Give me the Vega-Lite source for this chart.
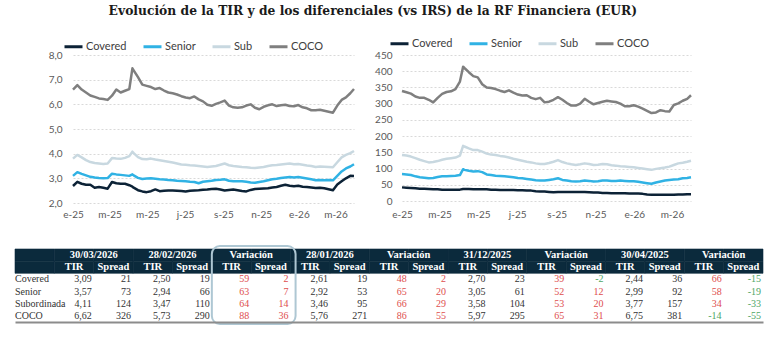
{
  "$schema": "https://vega.github.io/schema/vega-lite/v6.json",
  "padding": {"left": 14, "top": 4, "right": 2, "bottom": 2},
  "background": "white",
  "title": {"text": "Evolución de la TIR y de los diferenciales (vs IRS) de la RF Financiera (EUR)", "font": "DejaVu Serif", "fontSize": 12.3, "fontWeight": "bold", "color": "#1a1a1a", "anchor": "middle", "dx": -45, "offset": 16},
  "datasets": {
    "tir": [
      {"d": "2025-01-01", "Covered": 2.69, "Senior": 3.10, "Sub": 3.80, "COCO": 6.60},
      {"d": "2025-01-08", "Covered": 2.86, "Senior": 3.25, "Sub": 3.95, "COCO": 6.78},
      {"d": "2025-01-15", "Covered": 2.78, "Senior": 3.18, "Sub": 3.85, "COCO": 6.60},
      {"d": "2025-01-22", "Covered": 2.74, "Senior": 3.12, "Sub": 3.74, "COCO": 6.48},
      {"d": "2025-01-29", "Covered": 2.74, "Senior": 3.06, "Sub": 3.66, "COCO": 6.36},
      {"d": "2025-02-05", "Covered": 2.62, "Senior": 3.03, "Sub": 3.62, "COCO": 6.30},
      {"d": "2025-02-12", "Covered": 2.65, "Senior": 3.01, "Sub": 3.60, "COCO": 6.24},
      {"d": "2025-02-19", "Covered": 2.62, "Senior": 3.00, "Sub": 3.58, "COCO": 6.22},
      {"d": "2025-02-26", "Covered": 2.58, "Senior": 3.01, "Sub": 3.60, "COCO": 6.18},
      {"d": "2025-03-05", "Covered": 2.85, "Senior": 3.19, "Sub": 3.82, "COCO": 6.35},
      {"d": "2025-03-12", "Covered": 2.80, "Senior": 3.16, "Sub": 3.80, "COCO": 6.60},
      {"d": "2025-03-19", "Covered": 2.78, "Senior": 3.14, "Sub": 3.79, "COCO": 6.48},
      {"d": "2025-03-26", "Covered": 2.78, "Senior": 3.12, "Sub": 3.83, "COCO": 6.55},
      {"d": "2025-04-02", "Covered": 2.72, "Senior": 3.10, "Sub": 3.90, "COCO": 6.62},
      {"d": "2025-04-07", "Covered": 2.66, "Senior": 3.16, "Sub": 4.08, "COCO": 7.46},
      {"d": "2025-04-09", "Covered": 2.62, "Senior": 3.12, "Sub": 4.02, "COCO": 7.38},
      {"d": "2025-04-16", "Covered": 2.52, "Senior": 3.02, "Sub": 3.86, "COCO": 7.10},
      {"d": "2025-04-23", "Covered": 2.47, "Senior": 2.97, "Sub": 3.78, "COCO": 6.80},
      {"d": "2025-04-30", "Covered": 2.44, "Senior": 2.99, "Sub": 3.77, "COCO": 6.75},
      {"d": "2025-05-07", "Covered": 2.48, "Senior": 3.00, "Sub": 3.80, "COCO": 6.70},
      {"d": "2025-05-14", "Covered": 2.55, "Senior": 2.98, "Sub": 3.76, "COCO": 6.62},
      {"d": "2025-05-21", "Covered": 2.48, "Senior": 2.96, "Sub": 3.73, "COCO": 6.66},
      {"d": "2025-05-28", "Covered": 2.50, "Senior": 2.95, "Sub": 3.70, "COCO": 6.56},
      {"d": "2025-06-04", "Covered": 2.51, "Senior": 2.93, "Sub": 3.67, "COCO": 6.48},
      {"d": "2025-06-11", "Covered": 2.51, "Senior": 2.92, "Sub": 3.64, "COCO": 6.45},
      {"d": "2025-06-18", "Covered": 2.50, "Senior": 2.90, "Sub": 3.60, "COCO": 6.40},
      {"d": "2025-06-25", "Covered": 2.49, "Senior": 2.89, "Sub": 3.56, "COCO": 6.33},
      {"d": "2025-07-02", "Covered": 2.47, "Senior": 2.88, "Sub": 3.55, "COCO": 6.28},
      {"d": "2025-07-09", "Covered": 2.50, "Senior": 2.86, "Sub": 3.53, "COCO": 6.25},
      {"d": "2025-07-16", "Covered": 2.51, "Senior": 2.85, "Sub": 3.52, "COCO": 6.32},
      {"d": "2025-07-23", "Covered": 2.52, "Senior": 2.80, "Sub": 3.50, "COCO": 6.20},
      {"d": "2025-07-30", "Covered": 2.54, "Senior": 2.86, "Sub": 3.48, "COCO": 6.12},
      {"d": "2025-08-06", "Covered": 2.55, "Senior": 2.88, "Sub": 3.46, "COCO": 5.98},
      {"d": "2025-08-13", "Covered": 2.57, "Senior": 2.90, "Sub": 3.48, "COCO": 5.94},
      {"d": "2025-08-20", "Covered": 2.58, "Senior": 2.93, "Sub": 3.50, "COCO": 6.02},
      {"d": "2025-08-27", "Covered": 2.55, "Senior": 2.94, "Sub": 3.55, "COCO": 6.08},
      {"d": "2025-09-03", "Covered": 2.51, "Senior": 2.96, "Sub": 3.60, "COCO": 6.15},
      {"d": "2025-09-10", "Covered": 2.53, "Senior": 2.90, "Sub": 3.53, "COCO": 5.95},
      {"d": "2025-09-17", "Covered": 2.55, "Senior": 2.88, "Sub": 3.50, "COCO": 5.88},
      {"d": "2025-09-24", "Covered": 2.52, "Senior": 2.88, "Sub": 3.48, "COCO": 5.86},
      {"d": "2025-10-01", "Covered": 2.49, "Senior": 2.88, "Sub": 3.46, "COCO": 5.88},
      {"d": "2025-10-08", "Covered": 2.47, "Senior": 2.86, "Sub": 3.45, "COCO": 5.95},
      {"d": "2025-10-15", "Covered": 2.53, "Senior": 2.83, "Sub": 3.43, "COCO": 6.00},
      {"d": "2025-10-22", "Covered": 2.57, "Senior": 2.82, "Sub": 3.42, "COCO": 5.86},
      {"d": "2025-10-29", "Covered": 2.58, "Senior": 2.85, "Sub": 3.44, "COCO": 5.80},
      {"d": "2025-11-05", "Covered": 2.59, "Senior": 2.88, "Sub": 3.46, "COCO": 5.90},
      {"d": "2025-11-12", "Covered": 2.60, "Senior": 2.92, "Sub": 3.50, "COCO": 5.96},
      {"d": "2025-11-19", "Covered": 2.63, "Senior": 2.96, "Sub": 3.53, "COCO": 6.00},
      {"d": "2025-11-26", "Covered": 2.65, "Senior": 2.98, "Sub": 3.54, "COCO": 5.93},
      {"d": "2025-12-03", "Covered": 2.70, "Senior": 3.01, "Sub": 3.56, "COCO": 5.96},
      {"d": "2025-12-10", "Covered": 2.74, "Senior": 3.03, "Sub": 3.58, "COCO": 5.98},
      {"d": "2025-12-17", "Covered": 2.70, "Senior": 3.05, "Sub": 3.60, "COCO": 5.93},
      {"d": "2025-12-24", "Covered": 2.68, "Senior": 3.03, "Sub": 3.57, "COCO": 5.92},
      {"d": "2025-12-31", "Covered": 2.70, "Senior": 3.05, "Sub": 3.58, "COCO": 5.97},
      {"d": "2026-01-07", "Covered": 2.66, "Senior": 3.02, "Sub": 3.55, "COCO": 5.88},
      {"d": "2026-01-14", "Covered": 2.65, "Senior": 2.99, "Sub": 3.52, "COCO": 5.84},
      {"d": "2026-01-21", "Covered": 2.63, "Senior": 2.96, "Sub": 3.50, "COCO": 5.76},
      {"d": "2026-01-28", "Covered": 2.61, "Senior": 2.92, "Sub": 3.46, "COCO": 5.76},
      {"d": "2026-02-04", "Covered": 2.62, "Senior": 2.93, "Sub": 3.48, "COCO": 5.78},
      {"d": "2026-02-11", "Covered": 2.60, "Senior": 2.92, "Sub": 3.47, "COCO": 5.74},
      {"d": "2026-02-18", "Covered": 2.56, "Senior": 2.93, "Sub": 3.46, "COCO": 5.70},
      {"d": "2026-02-25", "Covered": 2.52, "Senior": 2.92, "Sub": 3.45, "COCO": 5.66},
      {"d": "2026-03-04", "Covered": 2.75, "Senior": 3.10, "Sub": 3.65, "COCO": 5.95},
      {"d": "2026-03-11", "Covered": 2.88, "Senior": 3.28, "Sub": 3.85, "COCO": 6.18},
      {"d": "2026-03-18", "Covered": 3.00, "Senior": 3.40, "Sub": 3.95, "COCO": 6.28},
      {"d": "2026-03-25", "Covered": 3.10, "Senior": 3.48, "Sub": 4.02, "COCO": 6.45},
      {"d": "2026-03-31", "Covered": 3.09, "Senior": 3.57, "Sub": 4.11, "COCO": 6.62}
    ],
    "spr": [
      {"d": "2025-01-01", "Covered": 42, "Senior": 83, "Sub": 142, "COCO": 339},
      {"d": "2025-01-08", "Covered": 41, "Senior": 82, "Sub": 140, "COCO": 335},
      {"d": "2025-01-15", "Covered": 40, "Senior": 80, "Sub": 137, "COCO": 331},
      {"d": "2025-01-22", "Covered": 39, "Senior": 76, "Sub": 132, "COCO": 322},
      {"d": "2025-01-29", "Covered": 38, "Senior": 73, "Sub": 127, "COCO": 318},
      {"d": "2025-02-05", "Covered": 38, "Senior": 72, "Sub": 123, "COCO": 318},
      {"d": "2025-02-12", "Covered": 37, "Senior": 70, "Sub": 119, "COCO": 312},
      {"d": "2025-02-19", "Covered": 36, "Senior": 71, "Sub": 120, "COCO": 304},
      {"d": "2025-02-26", "Covered": 36, "Senior": 74, "Sub": 123, "COCO": 318},
      {"d": "2025-03-05", "Covered": 35, "Senior": 76, "Sub": 127, "COCO": 330},
      {"d": "2025-03-12", "Covered": 35, "Senior": 76, "Sub": 130, "COCO": 336},
      {"d": "2025-03-19", "Covered": 35, "Senior": 77, "Sub": 132, "COCO": 338},
      {"d": "2025-03-26", "Covered": 35, "Senior": 78, "Sub": 134, "COCO": 345},
      {"d": "2025-04-02", "Covered": 35, "Senior": 80, "Sub": 140, "COCO": 368},
      {"d": "2025-04-07", "Covered": 37, "Senior": 98, "Sub": 170, "COCO": 414},
      {"d": "2025-04-09", "Covered": 37, "Senior": 96, "Sub": 168, "COCO": 410},
      {"d": "2025-04-16", "Covered": 37, "Senior": 93, "Sub": 162, "COCO": 397},
      {"d": "2025-04-23", "Covered": 36, "Senior": 91, "Sub": 157, "COCO": 385},
      {"d": "2025-04-30", "Covered": 36, "Senior": 92, "Sub": 157, "COCO": 381},
      {"d": "2025-05-07", "Covered": 36, "Senior": 89, "Sub": 152, "COCO": 360},
      {"d": "2025-05-14", "Covered": 36, "Senior": 82, "Sub": 146, "COCO": 350},
      {"d": "2025-05-21", "Covered": 35, "Senior": 80, "Sub": 143, "COCO": 348},
      {"d": "2025-05-28", "Covered": 35, "Senior": 78, "Sub": 142, "COCO": 345},
      {"d": "2025-06-04", "Covered": 34, "Senior": 77, "Sub": 139, "COCO": 340},
      {"d": "2025-06-11", "Covered": 34, "Senior": 76, "Sub": 137, "COCO": 336},
      {"d": "2025-06-18", "Covered": 34, "Senior": 75, "Sub": 134, "COCO": 341},
      {"d": "2025-06-25", "Covered": 34, "Senior": 73, "Sub": 130, "COCO": 334},
      {"d": "2025-07-02", "Covered": 33, "Senior": 71, "Sub": 127, "COCO": 328},
      {"d": "2025-07-09", "Covered": 33, "Senior": 70, "Sub": 124, "COCO": 325},
      {"d": "2025-07-16", "Covered": 32, "Senior": 68, "Sub": 121, "COCO": 326},
      {"d": "2025-07-23", "Covered": 32, "Senior": 66, "Sub": 119, "COCO": 318},
      {"d": "2025-07-30", "Covered": 30, "Senior": 64, "Sub": 116, "COCO": 314},
      {"d": "2025-08-06", "Covered": 29, "Senior": 63, "Sub": 114, "COCO": 318},
      {"d": "2025-08-13", "Covered": 29, "Senior": 63, "Sub": 114, "COCO": 304},
      {"d": "2025-08-20", "Covered": 28, "Senior": 65, "Sub": 117, "COCO": 306},
      {"d": "2025-08-27", "Covered": 27, "Senior": 67, "Sub": 121, "COCO": 312},
      {"d": "2025-09-03", "Covered": 28, "Senior": 70, "Sub": 126, "COCO": 320},
      {"d": "2025-09-10", "Covered": 28, "Senior": 65, "Sub": 120, "COCO": 312},
      {"d": "2025-09-17", "Covered": 28, "Senior": 63, "Sub": 116, "COCO": 302},
      {"d": "2025-09-24", "Covered": 28, "Senior": 61, "Sub": 113, "COCO": 294},
      {"d": "2025-10-01", "Covered": 28, "Senior": 60, "Sub": 111, "COCO": 294},
      {"d": "2025-10-08", "Covered": 28, "Senior": 61, "Sub": 113, "COCO": 300},
      {"d": "2025-10-15", "Covered": 28, "Senior": 63, "Sub": 116, "COCO": 315},
      {"d": "2025-10-22", "Covered": 27, "Senior": 62, "Sub": 114, "COCO": 306},
      {"d": "2025-10-29", "Covered": 26, "Senior": 60, "Sub": 111, "COCO": 298},
      {"d": "2025-11-05", "Covered": 26, "Senior": 61, "Sub": 112, "COCO": 302},
      {"d": "2025-11-12", "Covered": 25, "Senior": 63, "Sub": 114, "COCO": 306},
      {"d": "2025-11-19", "Covered": 25, "Senior": 63, "Sub": 113, "COCO": 309},
      {"d": "2025-11-26", "Covered": 24, "Senior": 62, "Sub": 110, "COCO": 307},
      {"d": "2025-12-03", "Covered": 24, "Senior": 62, "Sub": 109, "COCO": 305},
      {"d": "2025-12-10", "Covered": 24, "Senior": 63, "Sub": 107, "COCO": 300},
      {"d": "2025-12-17", "Covered": 24, "Senior": 62, "Sub": 106, "COCO": 292},
      {"d": "2025-12-24", "Covered": 23, "Senior": 61, "Sub": 105, "COCO": 292},
      {"d": "2025-12-31", "Covered": 23, "Senior": 61, "Sub": 104, "COCO": 295},
      {"d": "2026-01-07", "Covered": 23, "Senior": 59, "Sub": 102, "COCO": 291},
      {"d": "2026-01-14", "Covered": 22, "Senior": 57, "Sub": 100, "COCO": 285},
      {"d": "2026-01-21", "Covered": 20, "Senior": 55, "Sub": 98, "COCO": 278},
      {"d": "2026-01-28", "Covered": 19, "Senior": 53, "Sub": 96, "COCO": 271},
      {"d": "2026-02-04", "Covered": 19, "Senior": 57, "Sub": 99, "COCO": 273},
      {"d": "2026-02-11", "Covered": 19, "Senior": 60, "Sub": 101, "COCO": 280},
      {"d": "2026-02-18", "Covered": 19, "Senior": 63, "Sub": 103, "COCO": 277},
      {"d": "2026-02-25", "Covered": 19, "Senior": 65, "Sub": 106, "COCO": 276},
      {"d": "2026-03-04", "Covered": 19, "Senior": 66, "Sub": 111, "COCO": 296},
      {"d": "2026-03-11", "Covered": 20, "Senior": 67, "Sub": 116, "COCO": 301},
      {"d": "2026-03-18", "Covered": 20, "Senior": 70, "Sub": 118, "COCO": 309},
      {"d": "2026-03-25", "Covered": 21, "Senior": 71, "Sub": 121, "COCO": 315},
      {"d": "2026-03-31", "Covered": 21, "Senior": 73, "Sub": 124, "COCO": 326}
    ],
    "tbl": [
      {"r": "Covered", "t1": 3.09, "s1": 21, "t2": 2.50, "s2": 19, "vt2": 59, "vs2": 2, "t3": 2.61, "s3": 19, "vt3": 48, "vs3": 2, "t4": 2.70, "s4": 23, "vt4": 39, "vs4": -2, "t5": 2.44, "s5": 36, "vt5": 66, "vs5": -15},
      {"r": "Senior", "t1": 3.57, "s1": 73, "t2": 2.94, "s2": 66, "vt2": 63, "vs2": 7, "t3": 2.92, "s3": 53, "vt3": 65, "vs3": 20, "t4": 3.05, "s4": 61, "vt4": 52, "vs4": 12, "t5": 2.99, "s5": 92, "vt5": 58, "vs5": -19},
      {"r": "Subordinada", "t1": 4.11, "s1": 124, "t2": 3.47, "s2": 110, "vt2": 64, "vs2": 14, "t3": 3.46, "s3": 95, "vt3": 66, "vs3": 29, "t4": 3.58, "s4": 104, "vt4": 53, "vs4": 20, "t5": 3.77, "s5": 157, "vt5": 34, "vs5": -33},
      {"r": "COCO", "t1": 6.62, "s1": 326, "t2": 5.73, "s2": 290, "vt2": 88, "vs2": 36, "t3": 5.76, "s3": 271, "vt3": 86, "vs3": 55, "t4": 5.97, "s4": 295, "vt4": 65, "vs4": 31, "t5": 6.75, "s5": 381, "vt5": -14, "vs5": -55}
    ],
    "hdr": [
      {"k": "lbl", "h1": "", "h2": ""},
      {"k": "t1", "h1": "30/03/2026", "h2": "TIR"},
      {"k": "s1", "h1": "", "h2": "Spread"},
      {"k": "t2", "h1": "28/02/2026", "h2": "TIR"},
      {"k": "s2", "h1": "", "h2": "Spread"},
      {"k": "vt2", "h1": "Variación", "h2": "TIR"},
      {"k": "vs2", "h1": "", "h2": "Spread"},
      {"k": "t3", "h1": "28/01/2026", "h2": "TIR"},
      {"k": "s3", "h1": "", "h2": "Spread"},
      {"k": "vt3", "h1": "Variación", "h2": "TIR"},
      {"k": "vs3", "h1": "", "h2": "Spread"},
      {"k": "t4", "h1": "31/12/2025", "h2": "TIR"},
      {"k": "s4", "h1": "", "h2": "Spread"},
      {"k": "vt4", "h1": "Variación", "h2": "TIR"},
      {"k": "vs4", "h1": "", "h2": "Spread"},
      {"k": "t5", "h1": "30/04/2025", "h2": "TIR"},
      {"k": "s5", "h1": "", "h2": "Spread"},
      {"k": "vt5", "h1": "Variación", "h2": "TIR"},
      {"k": "vs5", "h1": "", "h2": "Spread"}
    ]
  },
  "concat": [
    {
      "hconcat": [
        {
          "width": 281,
          "height": 148,
          "data": {"name": "tir"},
          "transform": [{"fold": ["Covered", "Senior", "Sub", "COCO"], "as": ["s", "v"]}],
          "mark": {"type": "line", "strokeWidth": 2.5, "strokeJoin": "round"},
          "encoding": {
            "x": {
              "field": "d", "type": "temporal",
              "scale": {"type": "utc", "domain": [{"year": 2025, "month": 1, "date": 1, "utc": true}, {"year": 2026, "month": 3, "date": 31, "utc": true}], "nice": false},
              "axis": {"title": null, "grid": false, "domain": false, "ticks": false, "labelPadding": 6, "labelFlush": false,
                "values": [{"year": 2025, "month": 1, "date": 1, "utc": true}, {"year": 2025, "month": 3, "date": 1, "utc": true}, {"year": 2025, "month": 5, "date": 1, "utc": true}, {"year": 2025, "month": 7, "date": 1, "utc": true}, {"year": 2025, "month": 9, "date": 1, "utc": true}, {"year": 2025, "month": 11, "date": 1, "utc": true}, {"year": 2026, "month": 1, "date": 1, "utc": true}, {"year": 2026, "month": 3, "date": 1, "utc": true}],
                "labelExpr": "['e','f','m','a','m','j','j','a','s','o','n','d'][utcmonth(datum.value)] + '-' + utcFormat(datum.value, '%y')",
                "labelFont": "Lato", "labelFontSize": 10, "labelColor": "#595959", "labelOverlap": false}
            },
            "y": {
              "field": "v", "type": "quantitative",
              "scale": {"domain": [2, 8], "zero": false, "nice": false},
              "axis": {"title": null,
                "values": [2, 3, 4, 5, 6, 7, 8], "format": ".1f", "grid": true, "gridColor": "#d9d9d9", "gridDash": [2, 2], "domain": false, "ticks": false, "labelPadding": 11,
                "labelFont": "Lato", "labelFontSize": 10, "labelColor": "#595959"}
            },
            "color": {
              "field": "s", "type": "nominal",
              "scale": {"domain": ["Covered", "Senior", "Sub", "COCO"], "range": ["#0c2236", "#30b2e4", "#c8d8e0", "#7f7f7f"]},
              "legend": {"orient": "none", "legendX": -10, "legendY": -19, "direction": "horizontal", "title": null, "symbolType": "stroke", "symbolStrokeWidth": 3, "symbolSize": 324, "labelFont": "Lato", "labelFontSize": 11, "labelColor": "#404040", "columnPadding": 10, "labelOffset": 2}
            }
          }
        },
        {
          "width": 289,
          "height": 146,
          "data": {"name": "spr"},
          "transform": [{"fold": ["Covered", "Senior", "Sub", "COCO"], "as": ["s", "v"]}],
          "mark": {"type": "line", "strokeWidth": 2.5, "strokeJoin": "round"},
          "encoding": {
            "x": {
              "field": "d", "type": "temporal",
              "scale": {"type": "utc", "domain": [{"year": 2025, "month": 1, "date": 1, "utc": true}, {"year": 2026, "month": 3, "date": 31, "utc": true}], "nice": false},
              "axis": {"title": null, "grid": false, "domain": false, "ticks": false, "labelPadding": 8, "labelFlush": false,
                "values": [{"year": 2025, "month": 1, "date": 1, "utc": true}, {"year": 2025, "month": 3, "date": 1, "utc": true}, {"year": 2025, "month": 5, "date": 1, "utc": true}, {"year": 2025, "month": 7, "date": 1, "utc": true}, {"year": 2025, "month": 9, "date": 1, "utc": true}, {"year": 2025, "month": 11, "date": 1, "utc": true}, {"year": 2026, "month": 1, "date": 1, "utc": true}, {"year": 2026, "month": 3, "date": 1, "utc": true}],
                "labelExpr": "['e','f','m','a','m','j','j','a','s','o','n','d'][utcmonth(datum.value)] + '-' + utcFormat(datum.value, '%y')",
                "labelFont": "Lato", "labelFontSize": 10, "labelColor": "#595959", "labelOverlap": false}
            },
            "y": {
              "field": "v", "type": "quantitative",
              "scale": {"domain": [0, 450], "nice": false},
              "axis": {"title": null, "values": [0, 50, 100, 150, 200, 250, 300, 350, 400, 450], "format": "d", "grid": true, "gridColor": "#d9d9d9", "gridDash": [2, 2], "domain": false, "ticks": false, "labelPadding": 10,
                "labelFont": "Lato", "labelFontSize": 10, "labelColor": "#595959"}
            },
            "color": {
              "field": "s", "type": "nominal",
              "scale": {"domain": ["Covered", "Senior", "Sub", "COCO"], "range": ["#0c2236", "#30b2e4", "#c8d8e0", "#7f7f7f"]},
              "legend": {"orient": "none", "legendX": -13, "legendY": -22, "direction": "horizontal", "title": null, "symbolType": "stroke", "symbolStrokeWidth": 3, "symbolSize": 324, "labelFont": "Lato", "labelFontSize": 11, "labelColor": "#404040", "columnPadding": 10, "labelOffset": 2}
            }
          }
        }
      ],
      "spacing": 18,
      "resolve": {"scale": {"color": "independent"}, "legend": {"color": "independent"}}
    },
    {
      "width": 690,
      "height": 73,
      "layer": [
        {
          "data": {"name": "hdr"},
          "transform": [{"fold": ["h1", "h2"], "as": ["row", "txt"]}],
          "mark": {"type": "rect", "fill": "#0b2a3c", "stroke": "#0b2a3c", "strokeWidth": 0.6},
          "encoding": {
            "x": {"field": "k", "type": "nominal", "scale": {"domain": ["lbl", "t1", "s1", "t2", "s2", "vt2", "vs2", "t3", "s3", "vt3", "vs3", "t4", "s4", "vt4", "vs4", "t5", "s5", "vt5", "vs5"], "range": [-58, 690], "paddingInner": 0, "paddingOuter": 0}, "axis": {"labels": false, "ticks": false, "grid": false, "domain": true, "domainColor": "#8c8c8c", "domainWidth": 2, "title": null}},
            "y": {"field": "row", "type": "nominal", "scale": {"domain": ["h1", "h2", "Covered", "Senior", "Subordinada", "COCO"], "paddingInner": 0, "paddingOuter": 0}, "axis": null}
          }
        },
        {
          "data": {"name": "hdr"},
          "transform": [{"fold": ["h1", "h2"], "as": ["row", "txt"]}, {"filter": "datum.row == 'h1' && datum.txt != ''"}],
          "mark": {"type": "text", "font": "Liberation Serif", "fontSize": 10.5, "fontWeight": "bold", "color": "#ffffff", "align": "center", "baseline": "middle"},
          "encoding": {
            "x": {"field": "k", "type": "nominal", "bandPosition": 1, "axis": {"labels": false, "ticks": false, "grid": false, "domain": true, "domainColor": "#8c8c8c", "domainWidth": 2, "title": null}},
            "y": {"field": "row", "type": "nominal", "axis": null},
            "text": {"field": "txt"}
          }
        },
        {
          "data": {"name": "hdr"},
          "transform": [{"fold": ["h1", "h2"], "as": ["row", "txt"]}, {"filter": "datum.row == 'h2' && datum.txt != ''"}],
          "mark": {"type": "text", "font": "Liberation Serif", "fontSize": 10.5, "fontWeight": "bold", "color": "#ffffff", "align": "center", "baseline": "middle"},
          "encoding": {
            "x": {"field": "k", "type": "nominal", "axis": {"labels": false, "ticks": false, "grid": false, "domain": true, "domainColor": "#8c8c8c", "domainWidth": 2, "title": null}},
            "y": {"field": "row", "type": "nominal", "axis": null},
            "text": {"field": "txt"}
          }
        },
        {
          "data": {"values": [{}]},
          "mark": {"type": "rect", "fillOpacity": 0, "stroke": "#aec7d3", "strokeWidth": 2, "cornerRadius": 8, "yOffset": -3, "y2Offset": 2, "x2Offset": 5},
          "encoding": {
            "x": {"datum": "vt2", "type": "nominal", "bandPosition": 0, "axis": {"labels": false, "ticks": false, "grid": false, "domain": true, "domainColor": "#8c8c8c", "domainWidth": 2, "title": null}},
            "x2": {"datum": "vs2", "bandPosition": 1},
            "y": {"datum": "h1", "type": "nominal", "bandPosition": 0, "axis": null},
            "y2": {"datum": "COCO", "bandPosition": 1}
          }
        },
        {
          "data": {"name": "tbl"},
          "mark": {"type": "text", "font": "Liberation Serif", "fontSize": 10, "color": "#333333", "align": "left", "baseline": "middle", "dx": 0},
          "encoding": {
            "x": {"datum": "lbl", "type": "nominal", "bandPosition": 0, "axis": {"labels": false, "ticks": false, "grid": false, "domain": true, "domainColor": "#8c8c8c", "domainWidth": 2, "title": null}},
            "y": {"field": "r", "type": "nominal", "axis": null},
            "text": {"field": "r"}
          }
        },
        {
          "data": {"name": "tbl"},
          "transform": [{"fold": ["t1", "t2", "t3", "t4", "t5"], "as": ["k", "v"]}],
          "mark": {"type": "text", "font": "Liberation Serif", "fontSize": 10, "color": "#333333", "align": "right", "baseline": "middle", "dx": -2},
          "encoding": {
            "x": {"field": "k", "type": "nominal", "bandPosition": 1, "axis": {"labels": false, "ticks": false, "grid": false, "domain": true, "domainColor": "#8c8c8c", "domainWidth": 2, "title": null}},
            "y": {"field": "r", "type": "nominal", "axis": null},
            "text": {"field": "v", "type": "quantitative", "format": ".2f"}
          }
        },
        {
          "data": {"name": "tbl"},
          "transform": [{"fold": ["s1", "s2", "vt2", "vs2", "s3", "vt3", "vs3", "s4", "vt4", "vs4", "s5", "vt5", "vs5"], "as": ["k", "v"]}],
          "mark": {"type": "text", "font": "Liberation Serif", "fontSize": 10, "align": "right", "baseline": "middle", "dx": -2},
          "encoding": {
            "x": {"field": "k", "type": "nominal", "bandPosition": 1, "axis": {"labels": false, "ticks": false, "grid": false, "domain": true, "domainColor": "#8c8c8c", "domainWidth": 2, "title": null}},
            "y": {"field": "r", "type": "nominal", "axis": null},
            "text": {"field": "v", "type": "quantitative", "format": "d"},
            "color": {"condition": [{"test": "indexof(datum.k, 'v') == 0 && datum.v < 0", "value": "#4ea565"}, {"test": "indexof(datum.k, 'v') == 0", "value": "#de4e4e"}], "value": "#333333"}
          }
        }
      ]
    }
  ],
  "columns": 1,
  "align": "none",
  "spacing": 26,
  "config": {
    "view": {"stroke": null},
    "font": "Lato",
    "locale": {"number": {"decimal": ",", "thousands": ".", "grouping": [3], "currency": ["", " €"], "minus": "-"}}
  }
}
